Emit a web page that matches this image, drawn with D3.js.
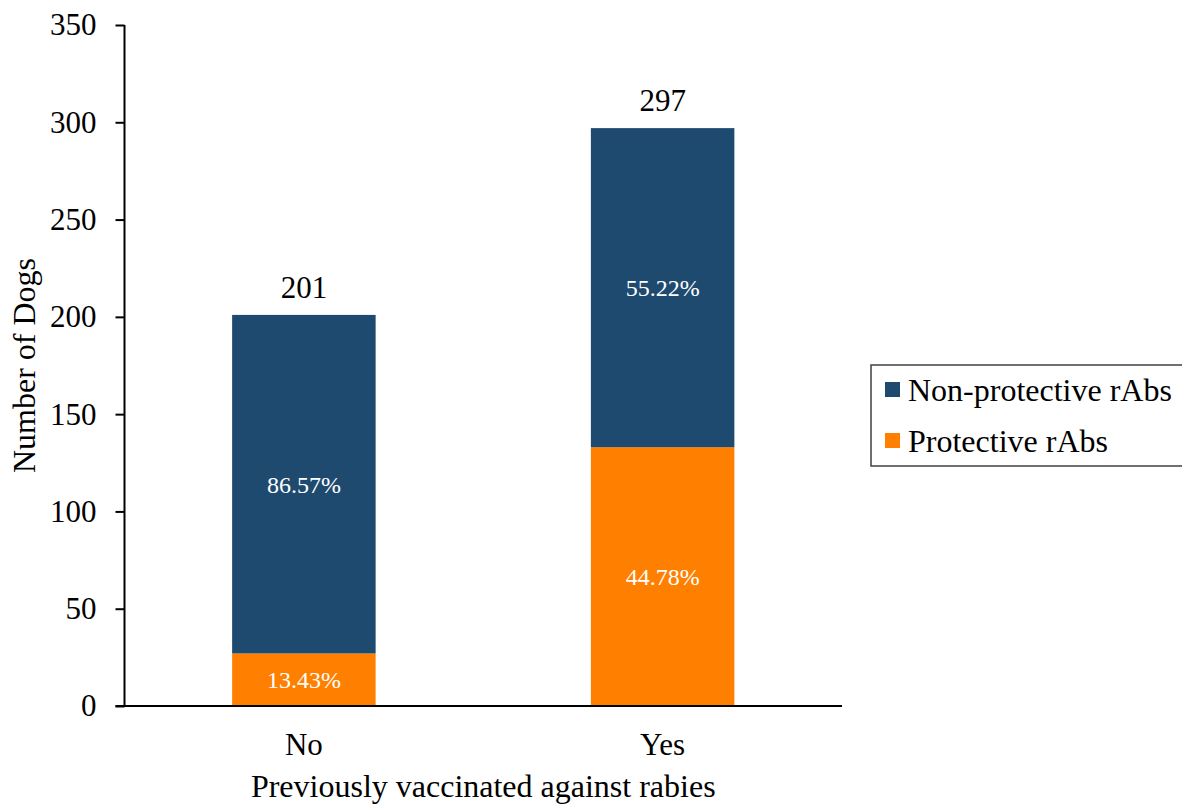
<!DOCTYPE html>
<html>
<head>
<meta charset="utf-8">
<script src="https://cdn.jsdelivr.net/npm/d3@7/dist/d3.min.js"></script>
<style>
  html, body { margin: 0; padding: 0; background: #fff; }
  svg { display: block; font-family: "Liberation Serif", "Times New Roman", serif; }
</style>
</head>
<body>
<svg id="chart" width="1182" height="808"></svg>
<script>
// Vaccination status groups
const categories = ["No", "Yes"];
// Dog counts per antibody status
const protective = [27, 133];
const nonProtective = [174, 164];
const seriesNames = ["Non-protective rAbs", "Protective rAbs"];
const yTicks = [0, 50, 100, 150, 200, 250, 300, 350];

const colors = { "Protective rAbs": "#FF8000", "Non-protective rAbs": "#1E4A6F" };
const serif = "Liberation Serif, Times New Roman, serif";

const svg = d3.select("#chart");
const x0 = 124.5, x1 = 842, yBase = 706, yTop = 25;

const x = d3.scaleBand().domain(categories).range([x0, x1])
  .paddingInner(0.6).paddingOuter(0.3);
const y = d3.scaleLinear().domain([0, 350]).range([yBase, yTop]);

const rows = categories.map((c, i) => ({
  cat: c,
  "Protective rAbs": protective[i],
  "Non-protective rAbs": nonProtective[i],
  total: protective[i] + nonProtective[i]
}));

const stack = d3.stack().keys(["Protective rAbs", "Non-protective rAbs"]);
const layers = stack(rows);

// Stacked bars
const g = svg.append("g");
layers.forEach(layer => {
  g.selectAll(null).data(layer).enter().append("rect")
    .attr("x", d => x(d.data.cat))
    .attr("width", x.bandwidth())
    .attr("y", d => y(d[1]))
    .attr("height", d => y(d[0]) - y(d[1]))
    .attr("fill", colors[layer.key]);
  // Share of the group, centred in each segment
  g.selectAll(null).data(layer).enter().append("text")
    .attr("x", d => x(d.data.cat) + x.bandwidth() / 2)
    .attr("y", d => (y(d[0]) + y(d[1])) / 2)
    .attr("dy", "0.35em")
    .attr("text-anchor", "middle")
    .attr("fill", "#fff")
    .attr("font-size", 24)
    .text(d => (100 * (d[1] - d[0]) / d.data.total).toFixed(2) + "%");
});

// Totals above bars
g.selectAll(null).data(rows).enter().append("text")
  .attr("x", d => x(d.cat) + x.bandwidth() / 2)
  .attr("y", d => y(d.total) - 17)
  .attr("text-anchor", "middle")
  .attr("font-size", 31)
  .attr("fill", "#000")
  .text(d => d.total);

// Y axis
const yAxis = svg.append("g").attr("transform", `translate(${x0},0)`)
  .call(d3.axisLeft(y).tickValues(yTicks).tickSize(9).tickPadding(19));
yAxis.select(".domain").attr("stroke", "#000").attr("stroke-width", 2)
  .attr("d", `M0,${yTop}V${yBase}`);
yAxis.selectAll(".tick line").attr("stroke", "#000").attr("stroke-width", 2);
yAxis.selectAll(".tick text").attr("font-size", 31).attr("fill", "#000")
  .attr("font-family", serif);

// X axis baseline
const xAxis = svg.append("g").attr("transform", `translate(0,${yBase})`)
  .call(d3.axisBottom(x).tickSize(0).tickPadding(27));
xAxis.select(".domain").attr("stroke", "#000").attr("stroke-width", 2)
  .attr("d", `M${x0 - 9},0H${x1}`);
xAxis.selectAll(".tick text").attr("font-size", 31).attr("fill", "#000")
  .attr("font-family", serif);

// Axis titles
svg.append("text")
  .attr("transform", `translate(35,${(yBase + yTop) / 2}) rotate(-90)`)
  .attr("text-anchor", "middle")
  .attr("font-size", 32)
  .text("Number of Dogs");
svg.append("text")
  .attr("x", (x0 + x1) / 2)
  .attr("y", 797)
  .attr("text-anchor", "middle")
  .attr("font-size", 32)
  .text("Previously vaccinated against rabies");

// Legend
const legend = svg.append("g");
legend.append("rect")
  .attr("x", 871).attr("y", 365).attr("width", 320).attr("height", 101)
  .attr("fill", "#fff").attr("stroke", "#404040").attr("stroke-width", 1.5);
seriesNames.forEach((name, i) => {
  const ly = 390 + i * 51;
  legend.append("rect")
    .attr("x", 885).attr("y", ly - 8).attr("width", 15).attr("height", 15)
    .attr("fill", colors[name]);
  legend.append("text")
    .attr("x", 908).attr("y", ly).attr("dy", "0.35em")
    .attr("font-size", 32)
    .text(name);
});
</script>
</body>
</html>
